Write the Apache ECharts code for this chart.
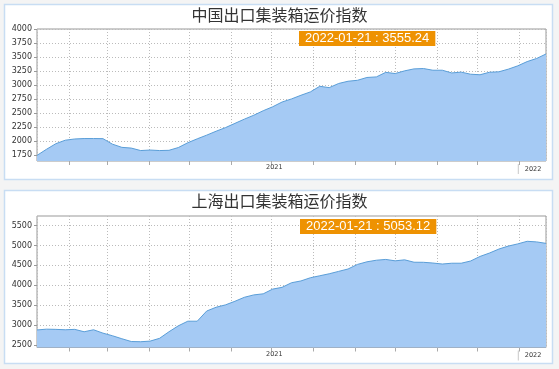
<!DOCTYPE html>
<html><head><meta charset="utf-8">
<script src="https://cdn.jsdelivr.net/npm/echarts@6/dist/echarts.min.js"></script>
<style>html,body{margin:0;padding:0;background:#f4f4f4}#c{width:559px;height:369px}</style>
</head><body><div id="c"></div>
<script>
const dates = ['2021-01-08','2021-01-15','2021-01-22','2021-01-29','2021-02-05','2021-02-12','2021-02-19','2021-02-26',
'2021-03-05','2021-03-12','2021-03-19','2021-03-26','2021-04-02','2021-04-09','2021-04-16','2021-04-23','2021-04-30',
'2021-05-07','2021-05-14','2021-05-21','2021-05-28','2021-06-04','2021-06-11','2021-06-18','2021-06-25',
'2021-07-02','2021-07-09','2021-07-16','2021-07-23','2021-07-30','2021-08-06','2021-08-13','2021-08-20','2021-08-27',
'2021-09-03','2021-09-10','2021-09-17','2021-09-24','2021-10-01','2021-10-08','2021-10-15','2021-10-22','2021-10-29',
'2021-11-05','2021-11-12','2021-11-19','2021-11-26','2021-12-03','2021-12-10','2021-12-17','2021-12-24','2021-12-31',
'2022-01-07','2022-01-14','2022-01-21'];
const ccfiValues = [1750,1858,1958,2020,2042,2050,2050,2048,1950,1893,1880,1836,1845,1836,1840,1890,1975,2045,2110,2180,2245,
2320,2395,2465,2545,2615,2700,2755,2820,2880,2980,2956,3030,3070,3087,3137,3147,3228,3207,3255,3290,3296,3266,3266,
3218,3232,3195,3185,3230,3238,3285,3344,3420,3475,3555.24];
const scfiValues = [2880,2900,2895,2885,2895,2835,2885,2800,2735,2660,2590,2585,2600,2670,2835,2985,3100,3100,3355,3450,
3510,3600,3700,3760,3787,3905,3950,4065,4110,4190,4240,4290,4350,4410,4525,4590,4630,4650,4615,4640,4580,4578,4560,
4535,4555,4555,4610,4725,4810,4910,4985,5040,5105,5090,5053.12];
const ccfiTicks = [1750,2000,2250,2500,2750,3000,3250,3500,3750,4000];
const scfiTicks = [2500,3000,3500,4000,4500,5000,5500];
const chartTitles = ['中国出口集装箱运价指数','上海出口集装箱运价指数'];
const yRanges = [{min:1650,max:4000},{min:2440,max:5740}];

const last = dates.length - 1;
const font = 'DejaVu Sans';
function xLabel(v){
  const d = new Date(v);
  if (d.getDate() !== 1) return '';
  if (d.getMonth() === 0) return '{pad|}{sep|}{y|' + d.getFullYear() + '}';
  if (d.getMonth() === 6) return '{y|' + d.getFullYear() + '}';
  return '';
}
function makeX(i){
  return {type:'time', gridIndex:i, min:dates[0], max:dates[last],
    minInterval:28*86400000, maxInterval:31*86400000, splitNumber:12,
    axisLine:{show:false},
    axisTick:{show:true,length:4,lineStyle:{color:'#aaa'}},
    splitLine:{show:true,lineStyle:{color:'#bbb',type:[1,2],width:1}},
    axisLabel:{formatter:xLabel, margin:3, showMinLabel:false, showMaxLabel:false,
      rich:{y:{fontSize:6.5,color:'#333',fontFamily:font,padding:[0,0,0,6]},
            sep:{width:1,height:10,backgroundColor:'#c8c8c8'},
            pad:{width:21,height:10}}}
  };
}
function makeY(i, ticks){
  return {type:'value', gridIndex:i, min:yRanges[i].min, max:yRanges[i].max,
    axisLine:{show:false},
    axisTick:{show:true,length:3,lineStyle:{color:'#999'},customValues:ticks},
    splitLine:{show:true,lineStyle:{color:'#bbb',type:[1,2],width:1}},
    axisLabel:{fontSize:8,color:'#333',fontFamily:font,margin:5,customValues:ticks,
      formatter:(v)=>String(v)}
  };
}
function series(i, vals){
  return {type:'line', xAxisIndex:i, yAxisIndex:i, symbol:'none', silent:true,
    data: dates.map((d,k)=>[d, vals[k]]),
    lineStyle:{color:'#5a9ed8',width:1},
    areaStyle:{color:'#a5caf4',opacity:1}};
}
function labelTitle(top, left, vals){
  return {text: dates[last] + ' : ' + vals[last].toFixed(2), left:left, top:top,
    backgroundColor:'#ee9202', padding:[1,6,1,6],
    textStyle:{color:'#fff',fontSize:13,fontWeight:'normal',fontFamily:'Liberation Sans'}};
}
const chart = echarts.init(document.getElementById('c'), null, {renderer:'canvas'});
chart.setOption({
  animation:false,
  backgroundColor:'#f4f4f4',
  graphic:[
    {type:'rect', z:-100, silent:true, shape:{x:4.5,y:4.5,width:548,height:175}, style:{fill:'#fff',stroke:'#c8ddf3',lineWidth:1.5}},
    {type:'rect', z:-100, silent:true, shape:{x:4.5,y:190.5,width:548,height:173}, style:{fill:'#fff',stroke:'#c8ddf3',lineWidth:1.5}}
  ],
  title:[
    {text:chartTitles[0], left:'center', top:2, textStyle:{fontSize:16,fontWeight:'normal',color:'#333',fontFamily:'Noto Sans CJK SC'}},
    {text:chartTitles[1], left:'center', top:188, textStyle:{fontSize:16,fontWeight:'normal',color:'#333',fontFamily:'Noto Sans CJK SC'}},
    labelTitle(31, 299, ccfiValues),
    labelTitle(219, 300, scfiValues)
  ],
  grid:[
    {left:37, right:13, top:29, height:132, show:true, borderColor:'#999', borderWidth:1, backgroundColor:'transparent'},
    {left:37, right:13, top:216, height:131.5, show:true, borderColor:'#999', borderWidth:1, backgroundColor:'transparent'}
  ],
  xAxis:[makeX(0), makeX(1)],
  yAxis:[makeY(0, ccfiTicks), makeY(1, scfiTicks)],
  series:[series(0, ccfiValues), series(1, scfiValues)]
});
</script></body></html>
